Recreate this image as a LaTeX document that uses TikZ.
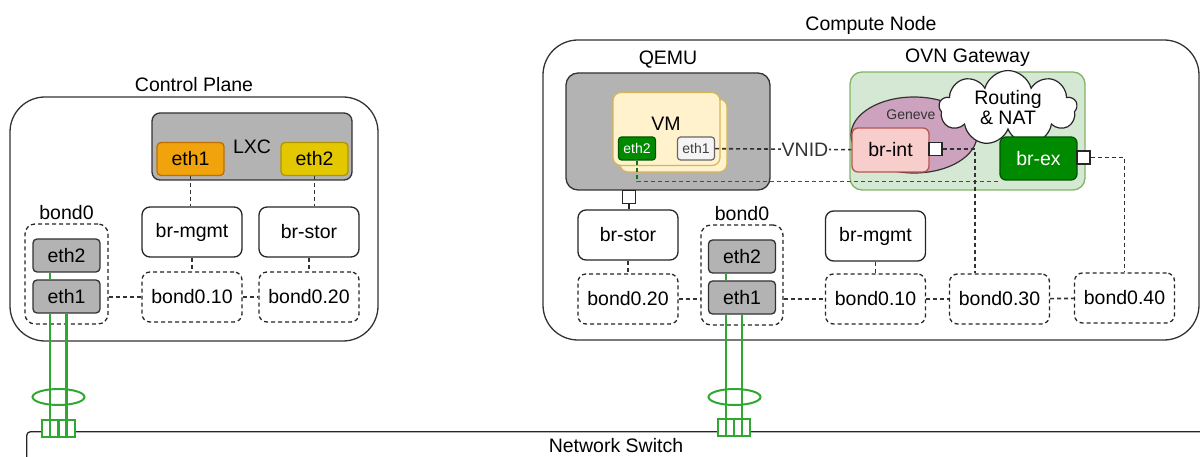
\documentclass[tikz,border=0pt]{standalone}
\usepackage{fontspec}
\setmainfont{Liberation Sans}
\usepackage{tikz}
\usetikzlibrary{positioning, shapes.geometric, shapes.symbols}
\usepackage{xcolor}

\definecolor{nicgray}{HTML}{B3B3B3}
\definecolor{bondgreen}{HTML}{2EA82E}
\definecolor{ovnfill}{HTML}{D5E8D4}
\definecolor{ovnline}{HTML}{82B366}
\definecolor{genevefill}{HTML}{CDA2BE}
\definecolor{intfill}{HTML}{F8CECC}
\definecolor{intline}{HTML}{B85450}
\definecolor{vmfill}{HTML}{FFF2CC}
\definecolor{vmline}{HTML}{D6B656}
\definecolor{exgreen}{HTML}{008A00}
\definecolor{exline}{HTML}{005700}
\definecolor{tapgreen}{HTML}{167016}
\definecolor{mgmtorange}{HTML}{F0A30A}
\definecolor{mgmtline}{HTML}{BD7000}
\definecolor{storyellow}{HTML}{E3C800}
\definecolor{storline}{HTML}{B09500}

\begin{document}
\begin{tikzpicture}[
  x=1pt, y=-1pt,
  every node/.style={font=\fontsize{19.5}{23}\selectfont},
  group/.style={rectangle, draw=black!80, line width=1.3pt, rounded corners=35pt},
  box/.style={rectangle, draw=black!85, fill=white, line width=1.3pt, rounded corners=8pt, minimum width=100pt, minimum height=50pt},
  vlan/.style={box, dash pattern=on 4pt off 3pt},
  nic/.style={rectangle, draw=black!80, fill=nicgray, line width=1.3pt, rounded corners=4pt, minimum width=67pt, minimum height=33pt},
  vnic/.style={rectangle, line width=1.2pt, rounded corners=3pt, minimum width=37pt, minimum height=23pt, inner sep=1pt, font=\fontsize{14}{16}\selectfont},
  port/.style={rectangle, draw=black!85, fill=white, line width=1.2pt, minimum size=13pt, inner sep=0pt},
  swport/.style={rectangle, draw=bondgreen, fill=white, line width=2pt, minimum width=16pt, minimum height=17pt, inner sep=0pt},
  lacp/.style={ellipse, draw=bondgreen, line width=2pt, minimum width=52pt, minimum height=16pt, inner sep=0pt},
  link/.style={black!80, line width=1.6pt, dash pattern=on 4pt off 3pt},
  tap/.style={tapgreen, line width=1.6pt, dash pattern=on 4pt off 3pt},
  bondline/.style={bondgreen, line width=2.5pt}
]
\useasboundingbox (0,0) rectangle (1200,457);

% control plane
\node[group, minimum width=368pt, minimum height=244pt] (cp) at (194,219) {};
\node[above=1pt of cp] (cptitle) {Control Plane};

\node[rectangle, draw=black!80, fill=nicgray, line width=1.3pt, rounded corners=8pt, minimum width=200pt, minimum height=67pt] (lxc) at (252,146.5) {LXC};
\node[nic, fill=mgmtorange, draw=mgmtline] (lxceth1) at (190.5,159) {eth1};
\node[nic, fill=storyellow, draw=storline] (lxceth2) at (314.5,159) {eth2};

\node[box] (cpmgmt) at (192,232) {br-mgmt};
\node[box] (cpstor) at (309,232) {br-stor};
\node[vlan] (cpv10) at (192,297) {bond0.10};
\node[vlan] (cpv20) at (309,297) {bond0.20};

\node[vlan, rounded corners=10pt, minimum width=83pt, minimum height=100pt] (cpbond) at (66.5,274) {};
\node[above=0pt of cpbond] (cpbondtitle) {bond0};
\node[nic] (cpeth2) at (66.5,255.5) {eth2};
\node[nic] (cpeth1) at (66.5,296.5) {eth1};

\draw[link] (lxceth1.south) -- (lxceth1.south |- cpmgmt.north);
\draw[link] (lxceth2.south) -- (lxceth2.south |- cpstor.north);
\draw[link] (cpmgmt) -- (cpv10);
\draw[link] (cpstor) -- (cpv20);
\draw[link] (cpbond.east |- cpv10) -- (cpv10);
\draw[link] (cpv10) -- (cpv20);

% compute node
\node[group, minimum width=656pt, minimum height=300pt] (cn) at (871,190) {};
\node[above=1pt of cn] (cntitle) {Compute Node};

\node[rectangle, draw=black!80, fill=nicgray, line width=1.3pt, rounded corners=12pt, minimum width=204pt, minimum height=117pt] (qemu) at (668,131.5) {};
\node[above=1pt of qemu] (qemutitle) {QEMU};
\node[rectangle, draw=vmline, fill=vmfill, line width=1.2pt, rounded corners=8pt, minimum width=107pt, minimum height=73pt] (vmback) at (673.5,135.5) {};
\node[rectangle, draw=vmline, fill=vmfill, line width=1.2pt, rounded corners=8pt, minimum width=107pt, minimum height=73pt] (vm) at (666.5,129) {};
\node (vmtitle) at (666,124) {VM};
\node[vnic, fill=exgreen, draw=exline, text=white] (vmeth2) at (637,148.5) {eth2};
\node[vnic, fill=black!4, draw=black!60, text=black!75] (vmeth1) at (696,148.5) {eth1};
\node[port] (qport) at (629,197) {};

\node[rectangle, draw=ovnline, fill=ovnfill, line width=1.3pt, rounded corners=12pt, minimum width=235pt, minimum height=118pt] (ovn) at (967.5,131) {};
\node[above=1pt of ovn] (ovntitle) {OVN Gateway};
\node[ellipse, draw=black!80, fill=genevefill, line width=1.2pt, minimum width=126pt, minimum height=76pt] (geneve) at (914,135) {};
\node[font=\fontsize{14}{16}\selectfont, text=black!80] (genevetitle) at (911,115) {Geneve};
\node[cloud, cloud puffs=9, aspect=2.3, draw=black!85, fill=white, line width=1.2pt, minimum width=138pt, minimum height=66pt, align=center, inner sep=0pt] (nat) at (1008,108) {Routing\\[-3pt]\& NAT};
\node[rectangle, draw=intline, fill=intfill, line width=1.3pt, rounded corners=6pt, minimum width=77pt, minimum height=44pt] (brint) at (890.5,150) {br-int};
\node[port] (intport) at (935.5,149) {};
\node[rectangle, draw=exline, fill=exgreen, text=white, line width=1.3pt, rounded corners=6pt, minimum width=77pt, minimum height=43pt] (brex) at (1038.5,158.5) {br-ex};
\node[port] (export) at (1083.5,157.5) {};

\node[box] (cnstor) at (628,235) {br-stor};
\node[vlan] (cnv20) at (628,299) {bond0.20};
\node[vlan, rounded corners=10pt, minimum width=82pt, minimum height=100pt] (cnbond) at (742,275) {};
\node[above=0pt of cnbond] (cnbondtitle) {bond0};
\node[nic] (cneth2) at (742,256.5) {eth2};
\node[nic] (cneth1) at (742,297.5) {eth1};
\node[box] (cnmgmt) at (875.5,236) {br-mgmt};
\node[vlan] (cnv10) at (875.5,299) {bond0.10};
\node[vlan] (cnv30) at (999.5,299) {bond0.30};
\node[vlan] (cnv40) at (1124.5,298) {bond0.40};

\draw[link] (vmeth1) -- node[pos=0.66, fill=white, inner sep=1pt] (vnid) {VNID} (brint);
\draw[tap] (vmeth2.south) |- ([yshift=-1pt]brex.south west);
\draw[black!85, line width=1.3pt] (qport.south) -- (qport.south |- cnstor.north);
\draw[link] (intport.east) -| ([xshift=-24.5pt]cnv30.north);
\draw[link] (export.east) -| (cnv40.north);
\draw[link] (cnstor) -- (cnv20);
\draw[link] (cnmgmt) -- (cnv10);
\draw[link] (cnv20.east) -- (cnv20.east -| cnbond.west);
\draw[link] (cnbond.east |- cnv10) -- (cnv10);
\draw[link] (cnv10) -- (cnv30);
\draw[link] (cnv30) -- (cnv40);

% network switch
\node[rectangle, draw=black!85, line width=1.3pt, rounded corners=4pt, minimum width=1200pt, minimum height=60pt, anchor=north west] (sw) at (26,431) {};
\node (swtitle) at (616,446) {Network Switch};

\node[swport] (cpsw1) at (50,428.5) {};
\node[swport] (cpsw2) at (66.5,428.5) {};
\node[swport] (cnsw1) at (726,427.5) {};
\node[swport] (cnsw2) at (742,427.5) {};

\draw[bondline] (cpeth2.south -| cpsw1) -- (cpeth1.north -| cpsw1);
\draw[bondline] (cpeth1.south -| cpsw1) -- (cpsw1.south);
\draw[bondline] (cpeth1.south -| cpsw2) -- (cpsw2.south);
\draw[bondline] (cneth2.south -| cnsw1) -- (cneth1.north -| cnsw1);
\draw[bondline] (cneth1.south -| cnsw1) -- (cnsw1.south);
\draw[bondline] (cneth1.south -| cnsw2) -- (cnsw2.south);
\node[lacp] (cplacp) at (58.5,397) {};
\node[lacp] (cnlacp) at (734.5,397) {};

\end{tikzpicture}
\end{document}
